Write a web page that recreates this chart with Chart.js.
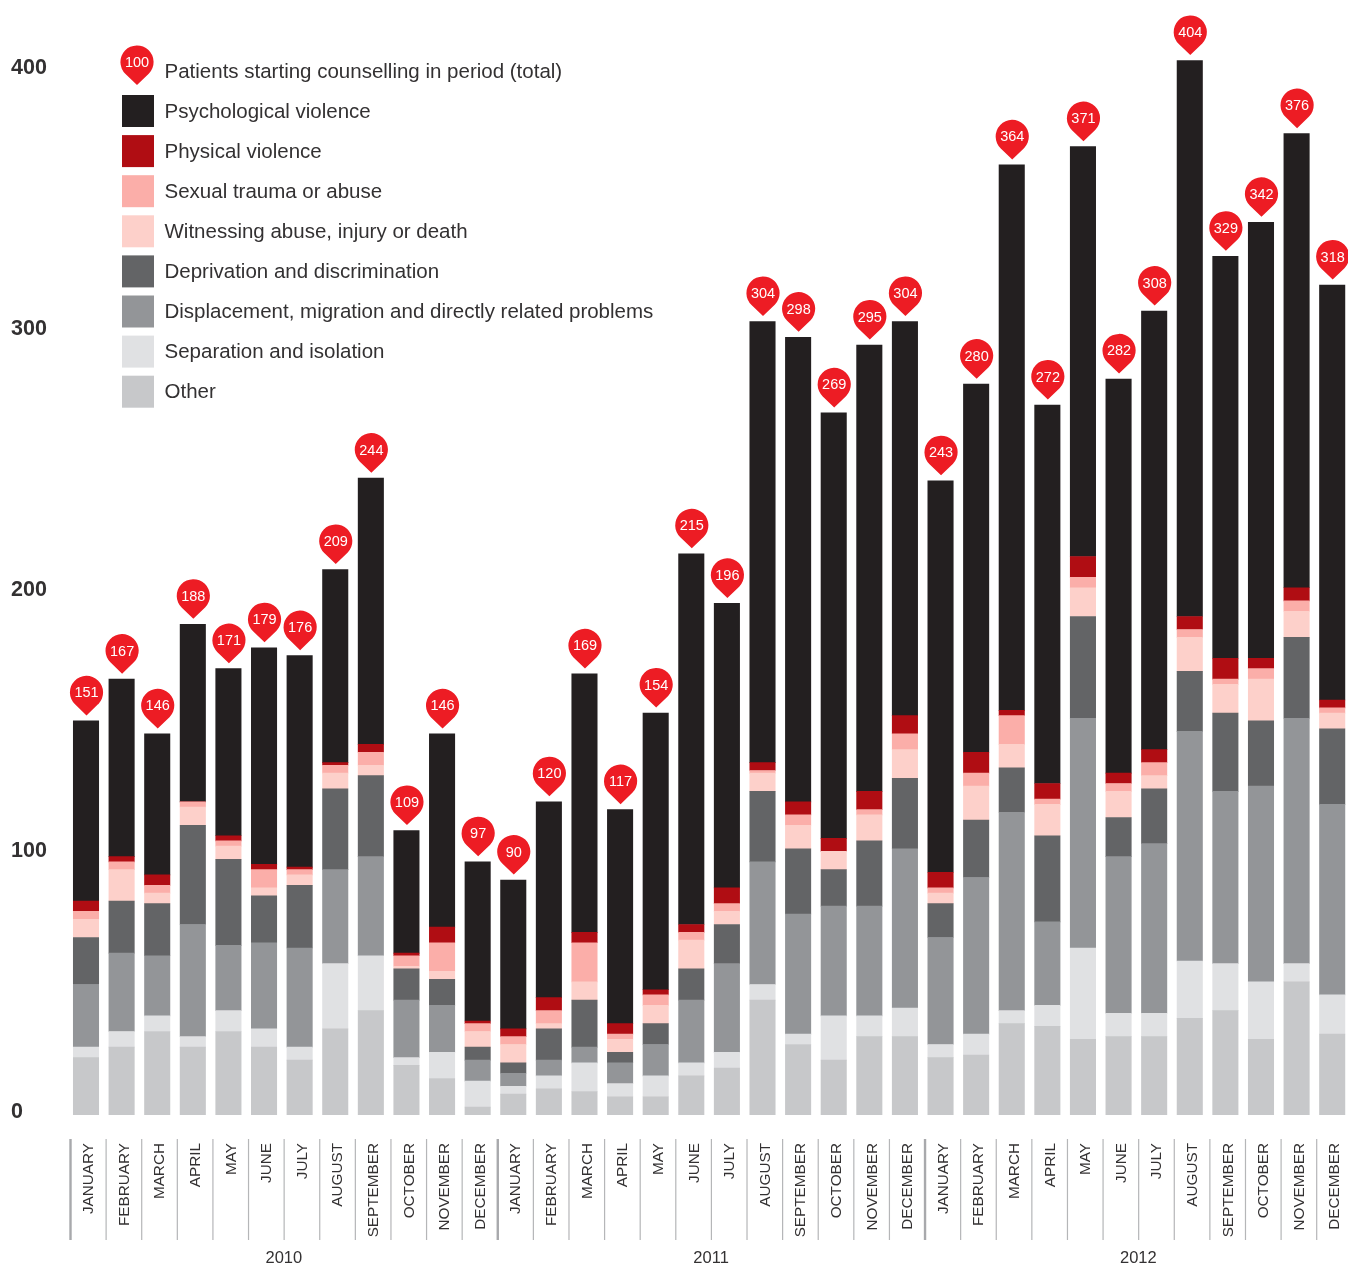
<!DOCTYPE html>
<html>
<head>
<meta charset="utf-8">
<title>Patients starting counselling</title>
<script src="https://cdn.jsdelivr.net/npm/chart.js@4"></script>
<style>
    html, body { margin: 0; padding: 0; background: #fff; overflow: hidden; }
    canvas { display: block; }
</style>
</head>
<body>
<canvas id="chart" width="1350" height="1266"></canvas>
<script>
const MONTHS = ['JANUARY', 'FEBRUARY', 'MARCH', 'APRIL', 'MAY', 'JUNE', 'JULY', 'AUGUST', 'SEPTEMBER', 'OCTOBER', 'NOVEMBER', 'DECEMBER'];
const categories = [...MONTHS, ...MONTHS, ...MONTHS];
const years = ['2010', '2011', '2012'];
const yTicks = [0, 100, 200, 300, 400];

const totals = [151, 167, 146, 188, 171, 179, 176, 209, 244, 109, 146, 97,
    90, 120, 169, 117, 154, 215, 196, 304, 298, 269, 295, 304,
    243, 280, 364, 272, 371, 282, 308, 404, 329, 342, 376, 318];

const psychological = [69, 68, 54, 68, 64, 83, 81, 74, 102, 47, 74, 61,
    57, 75, 99, 82, 106, 142, 109, 169, 178, 163, 171, 151,
    150, 141, 209, 145, 157, 151, 168, 213, 154, 167, 174, 159];
const physical = [4, 2, 4, 0, 2, 2, 1, 1, 3, 1, 6, 1,
    3, 5, 4, 4, 2, 3, 6, 3, 5, 5, 7, 7,
    6, 8, 2, 6, 8, 4, 5, 5, 8, 4, 5, 3];
const sexual = [3, 3, 3, 2, 2, 7, 2, 3, 5, 4, 11, 3,
    3, 5, 15, 2, 4, 3, 3, 1, 4, 0, 2, 6,
    2, 5, 11, 2, 4, 3, 5, 3, 2, 4, 4, 2];
const witnessing = [7, 12, 4, 7, 5, 3, 4, 6, 4, 1, 3, 6,
    7, 2, 7, 5, 7, 11, 5, 7, 9, 7, 10, 11,
    4, 13, 9, 12, 11, 10, 5, 13, 11, 16, 10, 6];
const deprivation = [18, 20, 20, 38, 33, 18, 24, 31, 31, 12, 10, 5,
    4, 12, 18, 4, 8, 12, 15, 27, 25, 14, 25, 27,
    13, 22, 17, 33, 39, 15, 21, 23, 30, 25, 31, 29];
const displacement = [24, 30, 23, 43, 25, 33, 38, 36, 38, 22, 18, 8,
    5, 6, 6, 8, 12, 24, 34, 47, 46, 42, 42, 61,
    41, 60, 76, 32, 88, 60, 65, 88, 66, 75, 94, 73];
const separation = [4, 6, 6, 4, 8, 7, 5, 25, 21, 3, 10, 10,
    3, 5, 11, 5, 8, 5, 6, 6, 4, 17, 8, 11,
    5, 8, 5, 8, 35, 9, 9, 22, 18, 22, 7, 15];
const other = [22, 26, 32, 26, 32, 26, 21, 33, 40, 19, 14, 3,
    8, 10, 9, 7, 7, 15, 18, 44, 27, 21, 30, 30,
    22, 23, 35, 34, 29, 30, 30, 37, 40, 29, 51, 31];

const PIN_LABEL = 'Patients starting counselling in period (total)';
const PIN_RED = '#ed1c24';
const TEXT = '#333132';
const FONT = '"Liberation Sans", Arial, sans-serif';

// stacked bottom to top, the legend reads the other way round
const seriesList = [
    { label: 'Other', data: other, backgroundColor: '#c7c8ca' },
    { label: 'Separation and isolation', data: separation, backgroundColor: '#e0e1e3' },
    { label: 'Displacement, migration and directly related problems', data: displacement, backgroundColor: '#939598' },
    { label: 'Deprivation and discrimination', data: deprivation, backgroundColor: '#636466' },
    { label: 'Witnessing abuse, injury or death', data: witnessing, backgroundColor: '#fdd0ca' },
    { label: 'Sexual trauma or abuse', data: sexual, backgroundColor: '#fbaea9' },
    { label: 'Physical violence', data: physical, backgroundColor: '#b00d13' },
    { label: 'Psychological violence', data: psychological, backgroundColor: '#231f20' }
];

// red map pin, tip at (x, tipY)
function drawPin(ctx, x, tipY, text) {
    const r = 16.6;
    const cy = tipY - 23;
    const a = Math.acos(r / 23);
    ctx.beginPath();
    ctx.moveTo(x, tipY);
    ctx.arc(x, cy, r, Math.PI / 2 + a, Math.PI * 2.5 - a, false);
    ctx.closePath();
    ctx.fillStyle = PIN_RED;
    ctx.fill();
    ctx.fillStyle = '#fff';
    ctx.font = '14.5px ' + FONT;
    ctx.textAlign = 'center';
    ctx.textBaseline = 'middle';
    ctx.fillText(text, x, cy + 1);
}

// the scales would otherwise reserve room around the first and last label
function noScalePadding(scale) {
    scale.paddingLeft = 0;
    scale.paddingRight = 0;
    scale.paddingTop = 0;
    scale.paddingBottom = 0;
}

const annotations = {
    id: 'annotations',
    afterDraw(chart) {
        const ctx = chart.ctx;
        const xScale = chart.scales.x;
        const yScale = chart.scales.y;
        ctx.save();

        // total pins
        totals.forEach(function(total, i) {
            drawPin(ctx, xScale.getPixelForValue(i) + 0.5, yScale.getPixelForValue(total) - 5.5, String(total));
        });

        // month separators
        categories.forEach(function(month, i) {
            const x = xScale.getPixelForValue(i) - 15.5;
            const first = i % 12 === 0;
            ctx.fillStyle = first ? '#a8a9ac' : '#b5b6b8';
            ctx.fillRect(first ? x - 1.2 : x - 0.6, 1139, first ? 2.4 : 1.2, 101);
        });

        // year labels
        ctx.fillStyle = TEXT;
        ctx.font = '16.5px ' + FONT;
        ctx.textAlign = 'center';
        ctx.textBaseline = 'middle';
        years.forEach(function(year, i) {
            const start = xScale.getPixelForValue(i * 12);
            const end = xScale.getPixelForValue(i * 12 + 11);
            ctx.fillText(year, (start + end) / 2 + 2, 1258);
        });

        // legend
        const legendX = 122;
        ctx.font = '20.5px ' + FONT;
        ctx.textAlign = 'left';
        ctx.fillStyle = TEXT;
        ctx.fillText(PIN_LABEL, 164.5, 72);
        drawPin(ctx, 137, 85, '100');
        seriesList.slice().reverse().forEach(function(series, i) {
            const top = 95 + i * 40.1;
            ctx.fillStyle = series.backgroundColor;
            ctx.fillRect(legendX, top, 32, 32);
            ctx.fillStyle = TEXT;
            ctx.font = '20.5px ' + FONT;
            ctx.textAlign = 'left';
            ctx.fillText(series.label, 164.5, top + 17);
        });

        ctx.restore();
    }
};

new Chart(document.getElementById('chart'), {
    type: 'bar',
    data: {
        labels: categories,
        datasets: seriesList.map(function(series) {
            // 25.4 + the library's 0.33px inflate on each side gives 26px bars
            return Object.assign({ barThickness: 25.4, borderWidth: 0 }, series);
        })
    },
    options: {
        responsive: false,
        animation: false,
        layout: { padding: { left: 11, right: 0, top: 0, bottom: 0 } },
        plugins: { legend: { display: false }, tooltip: { enabled: false } },
        scales: {
            x: {
                stacked: true,
                offset: true,
                grid: { display: false, drawTicks: false },
                border: { display: false },
                afterFit: function(scale) {
                    scale.height = 151;
                    noScalePadding(scale);
                },
                ticks: {
                    autoSkip: false,
                    minRotation: 90,
                    maxRotation: 90,
                    padding: 28,
                    labelOffset: 3,
                    color: TEXT,
                    font: { family: FONT, size: 15.3 }
                }
            },
            y: {
                stacked: true,
                min: 0,
                max: 427.2,
                grid: { display: false, drawTicks: false },
                border: { display: false },
                afterFit: function(scale) {
                    scale.width = 57.2;
                    noScalePadding(scale);
                },
                afterBuildTicks: function(scale) {
                    scale.ticks = yTicks.map(function(value) { return { value: value }; });
                },
                ticks: {
                    crossAlign: 'far',
                    labelOffset: -2.5,
                    color: TEXT,
                    font: { family: FONT, size: 21.5, weight: 'bold' }
                }
            }
        }
    },
    plugins: [annotations]
});
</script>
</body>
</html>
